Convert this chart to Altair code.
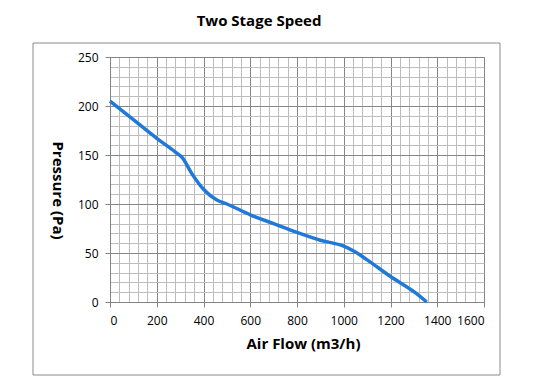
import altair as alt
import pandas as pd

flow = [0, 100, 200, 280, 310, 350, 400, 457, 500, 600, 700, 800, 900, 1000, 1050, 1100, 1200, 1300, 1355]
pressure = [205, 186, 167, 153, 147, 131, 115, 104, 100, 89, 80, 71, 63, 57, 51, 43, 26, 10.5, 0]

x_major = [0, 200, 400, 600, 800, 1000, 1200, 1400, 1600]
x_minor = list(range(0, 1601, 40))
y_major = [0, 50, 100, 150, 200, 250]
y_minor = list(range(0, 251, 10))

df = pd.DataFrame({"flow": flow, "pressure": pressure})

FONT = "Open Sans"
MAJOR = "#858585"
MINOR = "#bdbdbd"

xs = alt.Scale(domain=[0, 1600], nice=False)
ys = alt.Scale(domain=[0, 250], nice=False)

minor = alt.Chart(df).mark_line(opacity=0).encode(
    x=alt.X("flow:Q", scale=xs, axis=alt.Axis(orient="bottom", values=x_minor, grid=True, gridColor=MINOR, gridWidth=1,
                                              labels=False, ticks=False, domain=False, title=None)),
    y=alt.Y("pressure:Q", scale=ys, axis=alt.Axis(orient="left", values=y_minor, grid=True, gridColor=MINOR, gridWidth=1,
                                                  labels=False, ticks=False, domain=False, title=None)),
)

major = alt.Chart(df).mark_line(color="#2079d9", strokeWidth=3.5, interpolate="monotone").encode(
    x=alt.X("flow:Q", scale=xs, axis=alt.Axis(
        orient="bottom",
        values=x_major, grid=True, gridColor=MAJOR, gridWidth=1, format="d",
        title="Air Flow (m3/h)", titleFont=FONT, titleFontSize=15, titleFontWeight="bold", titleColor="#000",
        titlePadding=10, titleX=193,
        labelFont=FONT, labelFontSize=12, labelColor="#000", labelPadding=8,
        tickSize=5, tickColor=MAJOR, domainColor=MAJOR)),
    y=alt.Y("pressure:Q", scale=ys, axis=alt.Axis(
        orient="left",
        values=y_major, grid=True, gridColor=MAJOR, gridWidth=1, format="d",
        title="Pressure (Pa)", titleFont=FONT, titleFontSize=15, titleFontWeight="bold", titleColor="#000",
        titleAngle=90, titleX=-53, titleY=133, titleBaseline="middle", titleAlign="center",
        labelFont=FONT, labelFontSize=12, labelColor="#000", labelPadding=7,
        tickSize=5, tickColor=MAJOR, domainColor=MAJOR)),
)

frame = alt.Chart(pd.DataFrame({"a": [0]})).mark_rect(fill=None, stroke="#8a8a8a", strokeWidth=1).encode(
    x=alt.value(-77), x2=alt.value(390), y=alt.value(-14), y2=alt.value(318)
)

chart = alt.layer(minor, major, frame).resolve_axis(x="independent", y="independent").properties(
    width=374, height=245,
    title=alt.TitleParams("Two Stage Speed", font=FONT, fontSize=15, fontWeight="bold", color="#000",
                          anchor="middle", dx=-38, offset=14),
    autosize=alt.AutoSizeParams(type="none"),
    padding={"left": 102, "top": 49, "right": 45, "bottom": 78},
).configure_view(stroke=MAJOR).configure(background="white")

chart.save("out.html", embed_options={"renderer": "svg", "actions": False})
